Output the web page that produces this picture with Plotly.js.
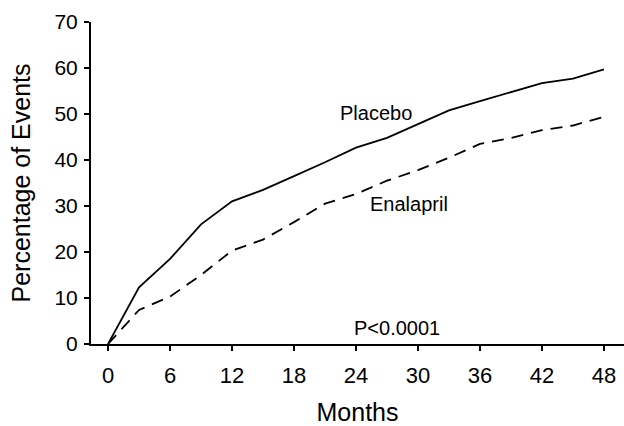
<!DOCTYPE html>
<html>
<head>
<meta charset="utf-8">
<script src="https://cdn.plot.ly/plotly-3.0.1.min.js"></script>
<style>html,body{margin:0;padding:0;background:#fff;}#chart{width:624px;height:426px;}</style>
</head>
<body>
<div id="chart"></div>
<script>
const months = [0, 3, 6, 9, 12, 15, 18, 21, 24, 27, 30, 33, 36, 39, 42, 45, 48];
const placebo = [0, 12.3, 18.5, 26, 31, 33.5, 36.5, 39.5, 42.7, 44.8, 47.8, 50.8, 52.8, 54.8, 56.7, 57.7, 59.7];
const enalapril = [0, 7.4, 10.3, 15, 20.3, 22.7, 26.5, 30.5, 32.6, 35.5, 37.8, 40.5, 43.5, 44.8, 46.5, 47.5, 49.4];
const xTicks = [0, 6, 12, 18, 24, 30, 36, 42, 48];
const yTicks = [0, 10, 20, 30, 40, 50, 60, 70];
const labels = [
  {text: 'Placebo', x: 25.9, y: 50.3},
  {text: 'Enalapril', x: 29.1, y: 30.4},
  {text: 'P<0.0001', x: 28.0, y: 3.4}
];

const font = 'Liberation Sans, Arial, Helvetica, sans-serif';
const traces = [
  {x: months, y: placebo, type: 'scatter', mode: 'lines', name: 'Placebo',
   line: {color: '#000', width: 1.8}},
  {x: months, y: enalapril, type: 'scatter', mode: 'lines', name: 'Enalapril',
   line: {color: '#000', width: 1.8, dash: '12px,8px'}}
];
const layout = {
  width: 624, height: 426,
  margin: {l: 91, r: 0, t: 22, b: 82},
  paper_bgcolor: '#fff', plot_bgcolor: '#fff',
  showlegend: false,
  font: {family: font, color: '#000', size: 18},
  xaxis: {
    range: [-1.65, 49.94], tickvals: xTicks, ticktext: xTicks.map(String),
    showgrid: false, zeroline: false, showline: true, linecolor: '#000', linewidth: 2,
    ticks: 'outside', ticklen: 5, tickwidth: 1.5, tickcolor: '#000',
    ticklabelstandoff: 6,
    tickfont: {size: 22, family: font, color: '#000'},
    title: {text: 'Months', font: {size: 25, family: font, color: '#000'}, standoff: 16}
  },
  yaxis: {
    range: [0, 70], tickvals: yTicks, ticktext: yTicks.map(String),
    showgrid: false, zeroline: false, showline: true, linecolor: '#000', linewidth: 2,
    ticks: 'outside', ticklen: 5, tickwidth: 1.5, tickcolor: '#000',
    ticklabelstandoff: 2,
    tickfont: {size: 21, family: font, color: '#000'},
    title: {text: 'Percentage of Events', font: {size: 25, family: font, color: '#000'}, standoff: 17}
  },
  annotations: labels.map(l => ({
    text: l.text, x: l.x, y: l.y, xref: 'x', yref: 'y', showarrow: false,
    font: {size: 20, family: font, color: '#000'}
  }))
};
Plotly.newPlot('chart', traces, layout, {staticPlot: true, displayModeBar: false});
</script>
</body>
</html>
